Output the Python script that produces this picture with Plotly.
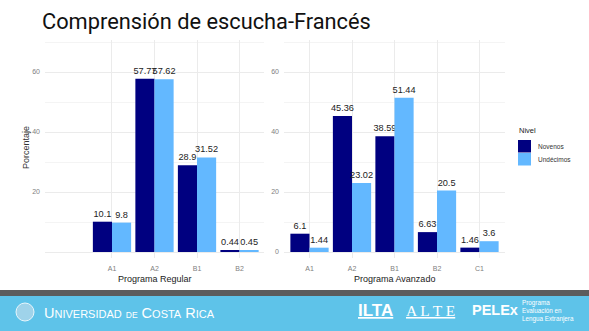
import plotly.graph_objects as go

W, H = 589, 331

# ---- data ----
reg_levels = ["A1", "A2", "B1", "B2"]
reg_novenos = [10.1, 57.77, 28.9, 0.44]
reg_undecimos = [9.8, 57.62, 31.52, 0.45]

adv_levels = ["A1", "A2", "B1", "B2", "C1"]
adv_novenos = [6.1, 45.36, 38.59, 6.63, 1.46]
adv_undecimos = [1.44, 23.02, 51.44, 20.5, 3.6]

series_names = ["Novenos", "Undécimos"]
series_colors = ["#000080", "#63B8FF"]

title_text = "Comprensión de escucha-Francés"


def fx(x):
    return x / W


def fy(y):
    return 1 - y / H


FONT = "Liberation Sans, Arial, sans-serif"
GRID = "#ebebeb"
MINOR = "#f4f4f4"

fig = go.Figure()


def add_bars(levels, nov, und, xa, ya):
    for name, vals, col in zip(series_names, [nov, und], series_colors):
        fig.add_trace(go.Bar(
            x=levels, y=vals, name=name, marker=dict(color=col, line=dict(width=0)),
            text=[str(v) for v in vals], textposition="outside",
            textfont=dict(family=FONT, size=9.2, color="#222222"),
            constraintext="none", cliponaxis=False,
            xaxis=xa, yaxis=ya, showlegend=False,
        ))


add_bars(reg_levels, reg_novenos, reg_undecimos, "x", "y")
add_bars(adv_levels, adv_novenos, adv_undecimos, "x2", "y2")

yrange = [-2, (252 - 40) / 3]
ydom = [fy(258), fy(40)]

tickfont = dict(family=FONT, size=7, color="#808080")

xcommon = dict(type="category", showgrid=True, gridcolor=GRID, gridwidth=1,
               ticks="", showline=False, zeroline=False, tickfont=tickfont,
               ticklabelstandoff=5)
ycommon = dict(range=yrange, domain=ydom, showgrid=True, gridcolor=GRID, gridwidth=1,
               ticks="", showline=False, zeroline=False, tickfont=tickfont,
               minor=dict(tickvals=[10, 30, 50, 70], showgrid=True, gridcolor=MINOR, gridwidth=1),
               ticklabelstandoff=4)

fig.update_layout(
    width=W, height=H,
    margin=dict(l=0, r=0, t=0, b=0),
    paper_bgcolor="white", plot_bgcolor="white",
    barmode="group", bargap=0.1, bargroupgap=0,
    xaxis=dict(xcommon, domain=[fx(45), fx(264)], range=[-1.576, 3.576], anchor="y"),
    yaxis=dict(ycommon, anchor="x", tickvals=[0, 20, 40, 60], ticktext=["", "20", "40", "60"]),
    xaxis2=dict(xcommon, domain=[fx(284), fx(505)], range=[-0.6, 4.6], anchor="y2"),
    yaxis2=dict(ycommon, anchor="x2", tickvals=[0, 20, 40, 60]),
    showlegend=False,
    font=dict(family=FONT),
)

ann = []
shapes = []

# title
ann.append(dict(x=fx(40), y=fy(21), xref="paper", yref="paper", xanchor="left", yanchor="middle",
                text=title_text, showarrow=False,
                font=dict(family="Roboto, Liberation Sans, Arial", size=21.8, color="#111111")))

# axis titles
ann.append(dict(x=fx(154.5), y=fy(279), xref="paper", yref="paper", xanchor="center", yanchor="middle",
                text="Programa Regular", showarrow=False, font=dict(family=FONT, size=9, color="#1a1a1a")))
ann.append(dict(x=fx(394.5), y=fy(279), xref="paper", yref="paper", xanchor="center", yanchor="middle",
                text="Programa Avanzado", showarrow=False, font=dict(family=FONT, size=9, color="#1a1a1a")))
ann.append(dict(x=fx(26), y=fy(148), xref="paper", yref="paper", xanchor="center", yanchor="middle",
                text="Porcentaje", textangle=-90, showarrow=False,
                font=dict(family=FONT, size=9, color="#333333")))

# legend (manual)
ann.append(dict(x=fx(517), y=fy(131), xref="paper", yref="paper", xanchor="left", yanchor="middle",
                text="Nivel", showarrow=False, font=dict(family=FONT, size=7.5, color="#222")))
for i, (name, col) in enumerate(zip(series_names, series_colors)):
    top = 140 + i * 13
    shapes.append(dict(type="rect", xref="paper", yref="paper", x0=fx(518), x1=fx(531),
                       y0=fy(top + 12.5), y1=fy(top), fillcolor=col, line=dict(width=0)))
    ann.append(dict(x=fx(536), y=fy(top + 6.5), xref="paper", yref="paper", xanchor="left",
                    yanchor="middle", text=name, showarrow=False,
                    font=dict(family=FONT, size=6.5, color="#333")))

# footer banner
shapes.append(dict(type="rect", xref="paper", yref="paper", x0=0, x1=1, y0=fy(297), y1=fy(290),
                   fillcolor="#5c5c5c", line=dict(width=0), layer="above"))
shapes.append(dict(type="rect", xref="paper", yref="paper", x0=0, x1=1, y0=0, y1=fy(296),
                   fillcolor="#5ec3e9", line=dict(width=0), layer="above"))
shapes.append(dict(type="circle", xref="paper", yref="paper", x0=fx(16), x1=fx(34), y0=fy(321),
                   y1=fy(303), fillcolor="#9fd3ea", line=dict(color="#e8f6fc", width=1), layer="above"))

ucr = ("U<span style='font-size:11px'>NIVERSIDAD</span> <span style='font-size:8.5px'>DE</span> "
       "C<span style='font-size:11px'>OSTA</span> R<span style='font-size:11px'>ICA</span>")
ann.append(dict(x=fx(42), y=fy(313), xref="paper", yref="paper", xanchor="left", yanchor="middle",
                text=ucr, showarrow=False, font=dict(family="Liberation Sans, Arial", size=14.5, color="white")))

ann.append(dict(x=fx(356), y=fy(310), xref="paper", yref="paper", xanchor="left", yanchor="middle",
                text="<b><u>ILTA</u></b>", showarrow=False,
                font=dict(family="Liberation Sans, Arial", size=17, color="white")))
ann.append(dict(x=fx(404), y=fy(310), xref="paper", yref="paper", xanchor="left", yanchor="middle",
                text="<u>A L T E</u>", showarrow=False,
                font=dict(family="Liberation Serif, serif", size=15.5, color="white")))
ann.append(dict(x=fx(470), y=fy(310), xref="paper", yref="paper", xanchor="left", yanchor="middle",
                text="<b>PELEx</b>", showarrow=False,
                font=dict(family="Liberation Sans, Arial", size=14.5, color="white")))
ann.append(dict(x=fx(520), y=fy(311), xref="paper", yref="paper", xanchor="left", yanchor="middle",
                text="Programa<br>Evaluación en<br>Lengua Extranjera", showarrow=False, align="left",
                font=dict(family="Liberation Sans, Arial", size=6.3, color="white")))

fig.update_layout(annotations=ann, shapes=shapes)

fig.write_html("out.html")
